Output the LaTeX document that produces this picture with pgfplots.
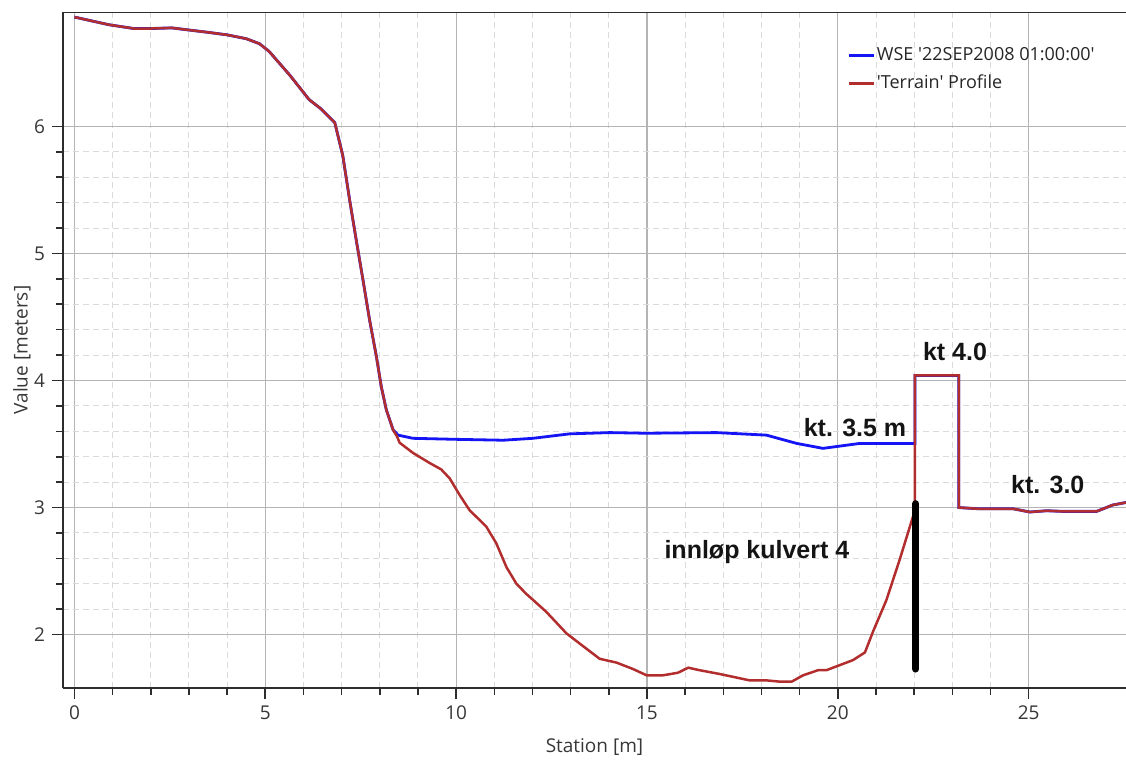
\documentclass[border=0pt]{standalone}
\usepackage{fontspec}
\setmainfont{Open Sans}
\newfontfamily\arialfont{Liberation Sans}
\usepackage{pgfplots}
\pgfplotsset{compat=1.18}
\usepackage{pgfplotstable}
\definecolor{wse}{RGB}{20,20,245}
\definecolor{terr}{RGB}{178,45,45}
\definecolor{majgrid}{RGB}{180,180,180}
\definecolor{mingrid}{RGB}{218,218,218}
\definecolor{axcol}{RGB}{45,45,45}
\definecolor{txt}{RGB}{55,55,55}

\pgfplotstableread{
x y
0.00 6.86
0.90 6.80
1.55 6.77
2.00 6.77
2.55 6.775
2.95 6.76
3.50 6.74
4.00 6.72
4.50 6.69
4.85 6.65
5.10 6.59
5.65 6.40
6.15 6.21
6.45 6.14
6.82 6.03
7.03 5.77
7.21 5.42
7.38 5.11
7.56 4.79
7.73 4.48
7.91 4.19
8.04 3.95
8.17 3.77
8.35 3.61
8.45 3.56
8.52 3.51
8.87 3.43
9.31 3.35
9.61 3.30
9.83 3.23
10.09 3.10
10.35 2.98
10.79 2.85
11.05 2.72
11.32 2.53
11.58 2.40
11.84 2.32
12.36 2.18
12.89 2.01
13.41 1.89
13.76 1.81
14.20 1.78
14.63 1.73
14.99 1.68
15.42 1.68
15.81 1.70
16.08 1.74
16.38 1.72
16.91 1.69
17.69 1.64
18.13 1.64
18.48 1.63
18.79 1.63
19.09 1.68
19.48 1.72
19.70 1.72
20.05 1.76
20.40 1.80
20.71 1.86
20.93 2.03
21.27 2.27
21.62 2.59
21.97 2.93
22.02 2.98
22.02 4.04
23.17 4.04
23.17 3.00
23.72 2.99
24.60 2.99
25.03 2.965
25.47 2.975
25.90 2.97
26.78 2.97
27.20 3.02
27.55 3.04
}\terrain

\pgfplotstableread{
x y
0.00 6.86
0.90 6.80
1.55 6.77
2.00 6.77
2.55 6.775
2.95 6.76
3.50 6.74
4.00 6.72
4.50 6.69
4.85 6.65
5.10 6.59
5.65 6.40
6.15 6.21
6.45 6.14
6.82 6.03
7.03 5.77
7.21 5.42
7.38 5.11
7.56 4.79
7.73 4.48
7.91 4.19
8.04 3.95
8.17 3.77
8.35 3.61
8.48 3.57
8.87 3.545
10.00 3.537
11.23 3.53
12.01 3.545
12.97 3.58
14.02 3.59
14.98 3.585
16.82 3.59
18.13 3.57
18.92 3.505
19.61 3.466
20.58 3.505
21.97 3.505
22.02 3.505
22.02 4.04
23.17 4.04
23.17 3.00
23.72 2.99
24.60 2.99
25.03 2.965
25.47 2.975
25.90 2.97
26.78 2.97
27.20 3.02
27.55 3.04
}\wsetab

\begin{document}
\begin{tikzpicture}
\begin{axis}[
  scale only axis, width=531.5pt, height=338pt,
  xmin=-0.3, xmax=27.55, ymin=1.58, ymax=6.9,
  axis x line*=bottom, axis y line*=left,
  axis line style={-, axcol, line width=1pt},
  xtick={0,5,...,25}, minor x tick num=4,
  ytick={2,3,4,5,6}, minor y tick num=4,
  tick align=outside,
  major tick length=5.5pt, minor tick length=3.5pt,
  tick style={axcol, line width=0.8pt},
  grid=both,
  major grid style={majgrid, line width=0.6pt},
  minor grid style={mingrid, dash pattern=on 3pt off 2pt, line width=0.5pt},
  ticklabel style={font=\fontsize{9.5}{11}\selectfont, text=txt},
  /pgf/number format/assume math mode=true,
  xlabel={Station [m]}, ylabel={Value [meters]},
  label style={font=\fontsize{9.5}{11}\selectfont, text=txt},
  xlabel style={at={(axis description cs:0.5,-0.088)}, anchor=center},
  ylabel style={at={(axis description cs:-0.0386,0.5)}, anchor=center},
  legend style={draw=none, fill=none, at={(axis cs:20.08,6.68)}, anchor=north west,
    font=\fontsize{9}{10}\selectfont, row sep=3pt,
    nodes={inner sep=1pt, text height=7pt, text depth=2pt, text=black!85}},
  legend cell align=left,
  legend image code/.code={\draw[#1, line width=1.3pt] (0pt,0pt) -- (12.5pt,0pt);},
]
\addplot[wse, line width=1.4pt] table[x=x, y=y] {\wsetab};
\addlegendentry{WSE \textquotesingle 22SEP2008 01:00:00\textquotesingle}
\addplot[terr, line width=1.25pt] table[x=x, y=y] {\terrain};
\addlegendentry{\textquotesingle Terrain\textquotesingle\ Profile}
\addplot[black, line width=3.6pt, line cap=round, forget plot] coordinates {(22.04,1.73) (22.04,3.03)};
\draw[axcol, line width=1pt] (rel axis cs:0,1) -- (rel axis cs:1,1);
\begin{scope}[every node/.style={font=\arialfont\bfseries\fontsize{12.5}{14}\selectfont, text=black!92}]
\node at (axis cs:20.45,3.626) {kt. 3.5 m};
\node at (axis cs:23.07,4.225) {kt 4.0};
\node at (axis cs:25.5,3.18) {kt. 3.0};
\node at (axis cs:17.88,2.65) {innløp kulvert 4};
\end{scope}
\end{axis}
\pgfresetboundingbox
\path[use as bounding box] ([shift={(-31.5pt,-36pt)}]current axis.south west) rectangle ([shift={(0pt,6pt)}]current axis.north east);
\end{tikzpicture}
\end{document}
